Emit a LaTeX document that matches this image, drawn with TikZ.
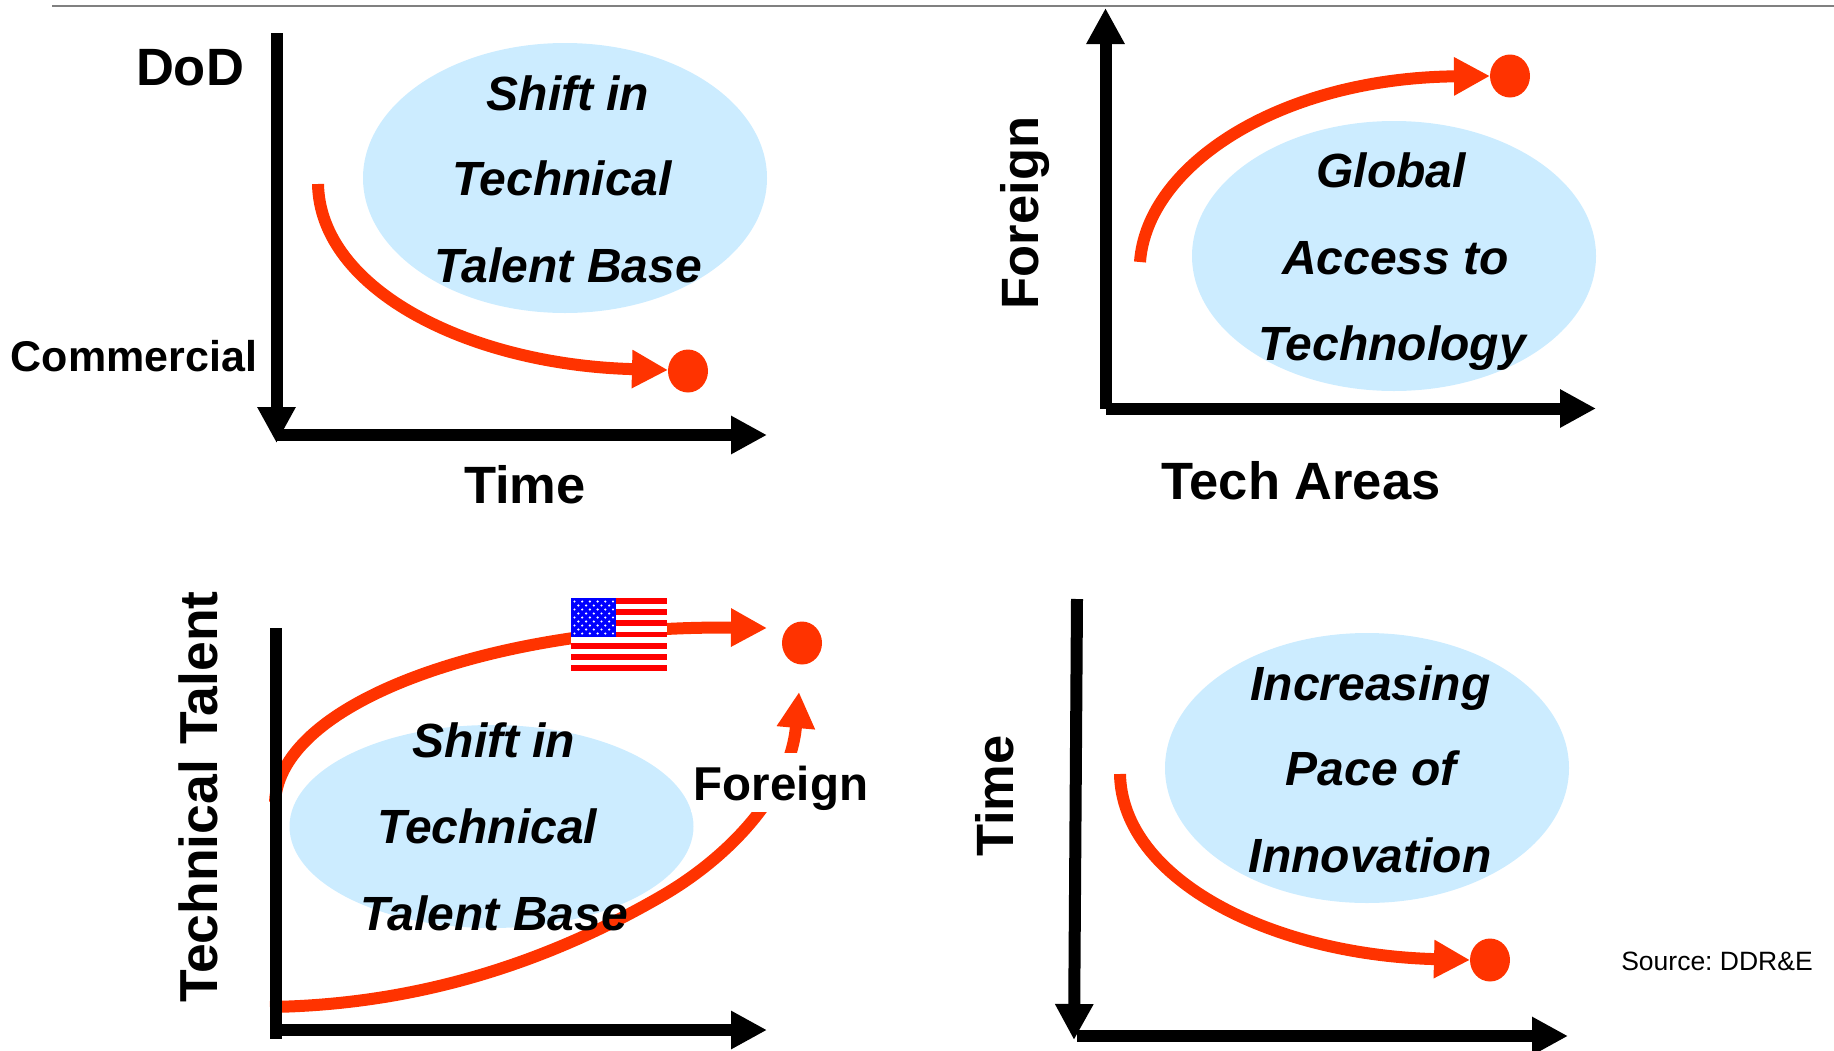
\documentclass[tikz,border=0pt]{standalone}
\usepackage{fontspec}
\setmainfont{Liberation Sans}
\frenchspacing
\usetikzlibrary{arrows.meta,shapes.geometric}

\begin{document}
\begin{tikzpicture}
	[x=1pt, y=-1pt,
	 axisline/.style={line width=12pt, black, -{Triangle[length=36pt,width=36pt]}},
	 plainaxis/.style={line width=12pt, black},
	 trend/.style={line width=12pt, trendred, -{Triangle[length=36pt,width=36pt]}},
	 blob/.style={ellipse, fill=blobblue, minimum width=404pt, minimum height=270pt, inner sep=0pt},
	 dot/.style={ellipse, fill=trendred, minimum width=40pt, minimum height=43pt, inner sep=0pt},
	 inblob/.style={inner sep=0pt, anchor=base, font=\fontsize{48}{50}\selectfont\bfseries\itshape},
	 big/.style={inner sep=0pt, font=\fontsize{52.5}{56}\selectfont\bfseries},
	 small/.style={inner sep=0pt, font=\fontsize{43}{46}\selectfont\bfseries}]
	\definecolor{trendred}{RGB}{255,51,0}
	\definecolor{blobblue}{RGB}{204,236,255}
	\useasboundingbox (0,0) rectangle (1834,1050);

	\coordinate (rule1) at (52,6);
	\coordinate (rule2) at (1834,6);
	\draw[line width=1.6pt, gray] (rule1) -- (rule2);

	% top left
	\coordinate (o1) at (276.5,435);
	\coordinate (top1) at (276.5,33);
	\coordinate (down1) at (276.5,443);
	\coordinate (right1) at (767,435);
	\node[blob] (blob1) at (565,178) {};
	\node[inblob] (shift1) at (568,110) {Shift in};
	\node[inblob] (tech1) at (562,195) {Technical};
	\node[inblob] (base1) at (568,282) {Talent Base};
	\draw[axisline] (top1) -- (down1);
	\draw[axisline] (o1) -- (right1);
	\coordinate (start1) at (318,184);
	\coordinate (tip1) at (668,370);
	\node[dot] (dot1) at (688,371) {};
	\draw[trend] (start1) .. controls (320,290) and (470,365) .. (tip1);
	\node[big] (dod) at (190,68) {DoD};
	\node[small] (commercial) at (134,356) {Commercial};
	\node[big] (time1) at (525,485) {Time};

	% top right
	\coordinate (o2) at (1105.5,408.5);
	\coordinate (up2) at (1105.5,8);
	\coordinate (right2) at (1596,408.5);
	\node[blob] (blob2) at (1394,256) {};
	\node[inblob] (global) at (1391,187) {Global};
	\node[inblob] (access) at (1395.5,274) {Access to};
	\node[inblob] (technology) at (1392,360) {Technology};
	\draw[axisline] (o2) -- (up2);
	\draw[axisline] (o2) -- (right2);
	\coordinate (start2) at (1140,262);
	\coordinate (tip2) at (1490,76);
	\node[dot] (dot2) at (1510,76) {};
	\draw[trend] (start2) .. controls (1147,165) and (1280,78) .. (tip2);
	\node[big, rotate=90] (foreign2) at (1025,213) {Foreign};
	\node[big] (areas) at (1301,481) {Tech Areas};

	% bottom left
	\coordinate (top3) at (276,628);
	\coordinate (o3) at (276,1039);
	\coordinate (corner3) at (276,1030);
	\coordinate (right3) at (767,1030);
	\node[blob, minimum height=203pt] (blob3) at (491.5,826.5) {};
	\coordinate (start3a) at (275,802);
	\coordinate (tip3a) at (767,628);
	\coordinate (start3b) at (270,1007);
	\coordinate (tip3b) at (799,692);
	\node[dot] (dot3) at (802,643) {};
	\draw[trend] (start3a) .. controls (280,700) and (500,625) .. (tip3a);
	\draw[trend] (start3b) .. controls (400,1005) and (530,972) .. (660,897)
		.. controls (725,860) and (790,795) .. (tip3b);
	\draw[plainaxis] (top3) -- (o3);
	\draw[axisline] (corner3) -- (right3);
	\node[inblob] (shift3) at (494,757) {Shift in};
	\node[inblob] (tech3) at (487.5,843) {Technical};
	\node[inblob] (base3) at (494,930) {Talent Base};
	\node[big, font=\fontsize{53.5}{56}\selectfont\bfseries, rotate=90] (talent) at (198,797) {Technical Talent};
	\node[fill=white, minimum width=180pt, text height=47pt, text depth=12pt, inner sep=0pt, font=\fontsize{47.5}{50}\selectfont\bfseries] (foreign3) at (781,782.5) {Foreign};
	% flag
	\node[fill=white, minimum width=96pt, minimum height=73pt, inner sep=0pt] (flag) at (619,634.5) {};
	\foreach \i in {0,...,6}
		\fill[red] (571,598+\i*11.23) rectangle (667,598+\i*11.23+5.6);
	\fill[blue] (571,598) rectangle (616,637.3);
	\foreach \r in {0,2,4,6,8}
		\foreach \c in {0,...,5}
			\fill[white] (574.5+\c*7.7,601.5+\r*4) circle (1.2pt);
	\foreach \r in {1,3,5,7}
		\foreach \c in {0,...,4}
			\fill[white] (578.4+\c*7.7,601.5+\r*4) circle (1.2pt);

	% bottom right
	\coordinate (top4) at (1077,599);
	\coordinate (down4) at (1074,1040);
	\coordinate (o4) at (1077,1036);
	\coordinate (right4) at (1568,1036);
	\node[blob] (blob4) at (1367,768) {};
	\node[inblob] (increasing) at (1370.5,700) {Increasing};
	\node[inblob] (pace) at (1371,785) {Pace of};
	\node[inblob] (innovation) at (1370,872.5) {Innovation};
	\draw[axisline] (top4) -- (down4);
	\draw[axisline] (o4) -- (right4);
	\coordinate (start4) at (1120,774);
	\coordinate (tip4) at (1470,960);
	\node[dot] (dot4) at (1490,960) {};
	\draw[trend] (start4) .. controls (1122,880) and (1272,955) .. (tip4);
	\node[big, rotate=90] (time4) at (995,796) {Time};
	\node[inner sep=0pt, font=\fontsize{26.5}{30}\selectfont] (source) at (1717,961) {Source: DDR\&E};
\end{tikzpicture}
\end{document}
